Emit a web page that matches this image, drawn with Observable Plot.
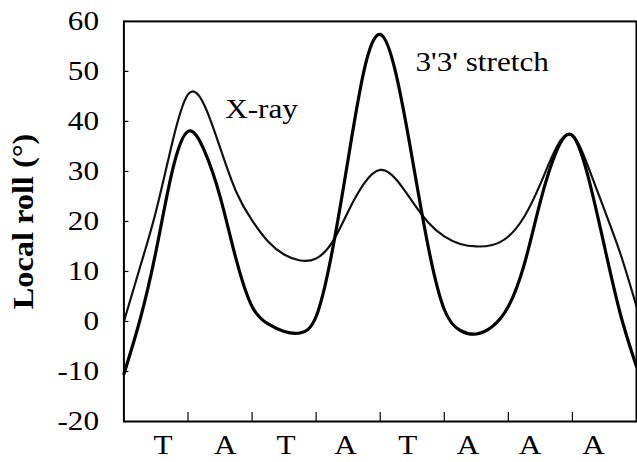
<!DOCTYPE html>
<html>
<head>
<meta charset="utf-8">
<script src="https://cdn.jsdelivr.net/npm/d3@7"></script>
<script src="https://cdn.jsdelivr.net/npm/@observablehq/plot@0.6"></script>
<style>
  html, body { margin: 0; padding: 0; background: #fff; overflow: hidden; }
  #wrap { width: 637px; height: 462px; overflow: hidden; }
  #wrap svg, #wrap svg text { font-family: "Liberation Serif", "Times New Roman", serif !important; }
</style>
</head>
<body>
<div id="wrap"></div>
<script>
// Base-step positions along the sequence (grid of quarter steps)
const steps = [0, 0.25, 0.5, 0.75, 1, 1.25, 1.5, 1.75, 2, 2.25, 2.5, 2.75, 3, 3.25, 3.5, 3.75, 4,
               4.25, 4.5, 4.75, 5, 5.25, 5.5, 5.75, 6, 6.25, 6.5, 6.75, 7, 7.25, 7.5, 7.75, 8];
// X-ray local roll (degrees)
const xray = [0, 10.8, 22.0, 35.5, 45.4, 43.4, 34.8, 26.0, 20.2, 16.0, 13.4, 12.2, 12.6, 15.8, 22.0, 27.6, 30.3,
              28.4, 24.0, 19.8, 17.0, 15.5, 15.0, 15.3, 17.0, 21.0, 27.5, 34.8, 37.2, 30.8, 22.3, 13.5, 3.0];
// 3'3' stretch local roll (degrees)
const stretch = [-10.5, 0.3, 14.0, 29.8, 38.0, 34.3, 25.0, 12.5, 3.0, -0.5, -2.0, -2.3, 1.0, 14.0, 32.5, 50.3, 57.4,
                 49.3, 32.6, 14.9, 2.4, -1.8, -2.5, -1.0, 3.0, 11.5, 24.0, 34.0, 37.2, 28.7, 15.0, 1.4, -9.0];
// Sequence letters and their label positions
const bases = ["T", "A", "T", "A", "T", "A", "A", "A"];
const basePos = [0.61, 1.58, 2.53, 3.46, 4.43, 5.37, 6.34, 7.33];
const stepTicks = [1, 2, 3, 4, 5, 6, 7];
const yTicks = [-20, -10, 0, 10, 20, 30, 40, 50, 60];
const curveLabels = [
  {name: "X-ray", x: 1.58, y: 40.6},
  {name: "3'3' stretch", x: 4.55, y: 50.1}
];

const xrayData = steps.map((s, i) => ({s, v: xray[i]}));
const stretchData = steps.map((s, i) => ({s, v: stretch[i]}));

const W = 640, H = 462;
const mL = 124, mT = 21, mB = 39, mR = 1;
const innerW = W - mL - mR, innerH = H - mT - mB;
const font = "'Liberation Serif', 'Times New Roman', serif";

const chart = Plot.plot({
  width: W,
  height: H,
  marginLeft: mL,
  marginTop: mT,
  marginBottom: mB,
  marginRight: mR,
  style: {fontFamily: font, fontSize: "28px", color: "black", background: "white", overflow: "visible"},
  x: {domain: [0, 8], axis: null},
  y: {domain: [-20, 60], axis: null},
  marks: [
    Plot.axisY({ticks: yTicks, tickSize: 0, tickPadding: 25, fontSize: 28, tickFormat: d => String(d)}),
    Plot.tickY(yTicks, {y: d => d, insetRight: innerW - 5, stroke: "black", strokeWidth: 1.2}),
    Plot.tickX(stepTicks, {x: d => d, insetTop: innerH - 9, stroke: "black", strokeWidth: 1.2}),
    Plot.text(bases, {x: (d, i) => basePos[i], text: d => d, frameAnchor: "bottom", lineAnchor: "top", dy: 13, fontSize: 28}),
    Plot.text(["Local roll (°)"], {text: d => d, frameAnchor: "left", textAnchor: "middle", rotate: -90, dx: -101, fontWeight: "bold", fontSize: 29}),
    Plot.line(xrayData, {x: "s", y: "v", curve: "natural", stroke: "#111", strokeWidth: 2.2}),
    Plot.line(stretchData, {x: "s", y: "v", curve: "natural", stroke: "black", strokeWidth: 3.2}),
    Plot.text(curveLabels, {x: "x", y: "y", text: "name", textAnchor: "start", lineAnchor: "bottom", fontSize: 28}),
    Plot.frame({stroke: "black", strokeWidth: 2})
  ]
});

// horizontally widen the serif lettering as in the scanned figure
d3.select(chart).selectAll("text").each(function () {
  const t = d3.select(this);
  const tr = t.attr("transform");
  t.attr("transform", (tr ? tr + " " : "") + "scale(1.12,1)");
});

document.getElementById("wrap").appendChild(chart);
</script>
</body>
</html>
